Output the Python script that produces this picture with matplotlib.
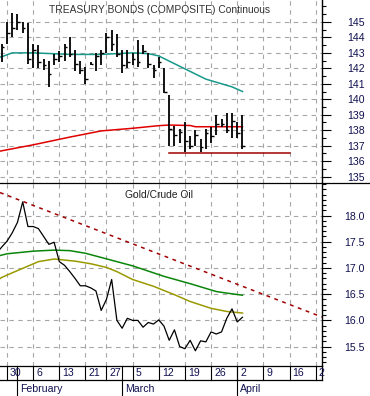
#!/usr/bin/env python3
# -*- coding: utf-8 -*-
"""
Treasury bonds vs gold/crude oil ratio, two stacked panels
"""

# %% imports
import matplotlib
matplotlib.use('Agg')
import matplotlib.pyplot as plt
from matplotlib.lines import Line2D
from matplotlib.ticker import FixedLocator, MultipleLocator
import matplotlib.transforms as mtransforms

# %% data - x is trading-day index, 0 = Jan 30 2012
bar_idx = list(range(-1, 46))
bond_high = [143.6, 145.0, 145.6, 145.5, 145.0, 144.9, 143.6, 143.5, 142.6, 142.5,
             142.9, 143.1, 143.6, 144.0, 143.2, 142.5, 142.1, 142.4, 143.0, 143.2,
             144.3, 144.5, 144.2, 143.2, 143.2, 143.0, 143.8, 143.5, 143.0, 142.2,
             142.7, 142.0, 140.3, 138.3, 138.1, 138.5, 137.6, 138.0, 137.4, 138.1,
             138.2, 139.0, 138.7, 139.1, 139.1, 138.5, 139.0]
bond_low = [142.4, 143.6, 144.0, 144.5, 144.3, 142.3, 142.0, 142.0, 141.9, 140.8,
            142.2, 142.4, 142.5, 142.7, 141.8, 141.6, 141.0, 142.2, 141.8, 142.2,
            143.0, 143.1, 142.7, 141.7, 142.0, 142.2, 142.1, 142.9, 142.0, 141.4,
            142.0, 140.4, 137.0, 137.0, 137.2, 136.6, 136.8, 137.0, 136.6, 136.8,
            137.2, 137.7, 138.2, 137.8, 137.5, 137.5, 136.8]
bond_close = [143.4, 144.3, 144.6, 145.0, 144.6, 142.6, 143.2, 142.4, 142.2, 141.6,
              142.6, 142.8, 143.4, 142.9, 142.3, 141.9, 141.3, 142.3, 142.8, 143.0,
              144.0, 143.6, 142.9, 142.2, 142.4, 142.6, 142.4, 143.1, 142.3, 141.9,
              142.4, 140.5, 138.1, 137.7, 137.9, 137.3, 137.0, 137.7, 136.9, 137.8,
              137.6, 138.4, 138.4, 138.0, 138.6, 137.8, 137.0]

ma50_x = [-2, -1, 1, 5, 12, 18, 24, 27, 29, 32, 35, 38, 41, 43, 45]
ma50_y = [142.7, 142.75, 143.0, 143.0, 142.9, 142.9, 143.0, 142.95, 142.8,
          142.3, 141.8, 141.3, 141.0, 140.8, 140.5]
ma200_x = [-2, 5, 12, 18, 24, 29, 31, 35, 36, 45]
ma200_y = [136.6, 137.05, 137.55, 137.95, 138.12, 138.29, 138.33, 138.3, 138.22, 138.22]
support_x = [31, 54]
support_y = [136.55, 136.55]

ratio_idx = list(range(-2, 46))
ratio = [17.28, 17.40, 17.51, 17.67, 17.87, 18.26, 17.79, 17.79, 17.75, 17.60,
         17.45, 17.49, 17.12, 17.05, 16.93, 16.80, 16.66, 16.66, 16.62, 16.56,
         16.19, 16.40, 16.78, 16.00, 15.85, 16.04, 16.00, 16.00, 15.87, 15.96,
         15.93, 16.01, 15.89, 15.62, 15.82, 15.50, 15.46, 15.62, 15.42, 15.61,
         15.59, 15.78, 15.74, 15.78, 16.04, 16.22, 15.97, 16.06]
green_x = [-2, 0, 5, 9, 12, 15, 21, 24, 30, 35, 40, 42, 45]
green_y = [17.22, 17.27, 17.32, 17.34, 17.33, 17.28, 17.12, 17.04, 16.84, 16.70,
           16.55, 16.52, 16.48]
olive_x = [-2, -1, 2, 6, 9, 13, 16, 19, 21, 24, 28, 32, 35, 39, 42, 45]
olive_y = [16.75, 16.82, 16.95, 17.12, 17.17, 17.13, 17.08, 17.01, 16.93, 16.78,
           16.65, 16.49, 16.36, 16.23, 16.17, 16.14]
trend_x = [3, 59]
trend_y = [18.27, 16.11]

top_ticks = [135, 136, 137, 138, 139, 140, 141, 142, 143, 144, 145]
bot_ticks = [15.5, 16.0, 16.5, 17.0, 17.5, 18.0]
week_idx = [0, 5, 10, 15, 19, 24, 29, 34, 39, 44, 49, 54, 59]
week_lbl = ['30', '6', '13', '21', '27', '5', '12', '19', '26', '2', '9', '16', '2']
month_idx = [2, 22, 44]
month_lbl = ['February', 'March', 'April']

# %% style
plt.rcParams['font.family'] = ['Liberation Sans', 'DejaVu Sans']
W, H = 370, 396
xlo, xhi = -1.34, 60.2
lblc = '#101050'
gridkw = dict(color='#a6a6a6', linestyle=(0, (4, 4)), linewidth=0.8)

fig = plt.figure(figsize=(W / 100, H / 100), dpi=100)
ax1 = fig.add_axes([0, 213 / H, 322 / W, 183 / H])
ax2 = fig.add_axes([0, 30 / H, 322 / W, 183 / H])


def style_axis(ax, ticks, labels, ylim, minor):
    ax.set_xlim(xlo, xhi)
    ax.set_ylim(*ylim)
    for s in ['top', 'left', 'bottom']:
        ax.spines[s].set_visible(False)
    ax.spines['right'].set_linewidth(1.0)
    ax.set_xticks(week_idx)
    ax.tick_params(axis='x', length=0, labelbottom=False)
    ax.yaxis.set_major_locator(FixedLocator(ticks))
    ax.yaxis.set_minor_locator(MultipleLocator(minor))
    ax.set_yticklabels(labels)
    ax.yaxis.tick_right()
    ax.tick_params(axis='y', which='major', direction='out', length=6.5, width=0.8,
                   pad=24.5, labelsize=7.6, labelcolor=lblc)
    ax.tick_params(axis='y', which='minor', direction='out', length=2.9, width=0.8)
    for t in ax.get_yticklabels():
        t.set_horizontalalignment('right')
    ax.grid(True, which='major', **gridkw)
    ax.set_axisbelow(True)


# %% top panel - treasury bonds
style_axis(ax1, top_ticks, [str(t) for t in top_ticks], (134.58, 146.42), 0.5)
ax1.plot(ma200_x, ma200_y, color='#e00000', lw=1.1)
ax1.plot(ma50_x, ma50_y, color='#17998a', lw=1.1)
ax1.plot(support_x, support_y, color='#a00000', lw=1.1)
ax1.vlines(bar_idx, bond_low, bond_high, color='black', lw=1.3)
ax1.hlines(bond_close, bar_idx, [i + 0.5 for i in bar_idx], color='black', lw=1.0)
ax1.text(0.495, 0.945, 'TREASURY BONDS (COMPOSITE) Continuous', transform=ax1.transAxes,
         ha='center', va='center', fontsize=7.4, color='#333333')

# %% bottom panel - gold/crude ratio
style_axis(ax2, bot_ticks, ['%.1f' % t for t in bot_ticks], (15.13, 18.62), 0.1)
ax2.axline((trend_x[0], trend_y[0]), (trend_x[1], trend_y[1]), color='#a00000',
           lw=1.1, linestyle=(0, (2.5, 3)))
ax2.plot(green_x, green_y, color='#0a860a', lw=1.1)
ax2.plot(olive_x, olive_y, color='#9a9a00', lw=1.1)
ax2.plot(ratio_idx, ratio, color='black', lw=0.9)
ax2.text(0.495, 0.935, 'Gold/Crude Oil', transform=ax2.transAxes,
         ha='center', va='center', fontsize=7.4, color='#222222')

# %% date axis rows drawn under the bottom panel
fy = lambda px: (H - px) / H
bt = mtransforms.blended_transform_factory(ax2.transData, fig.transFigure)
bt_lbl = mtransforms.offset_copy(bt, fig=fig, x=3, y=0, units='dots')
for i, l in zip(week_idx, week_lbl):
    fig.add_artist(Line2D([i, i], [fy(366), fy(380)], transform=bt, color='black', lw=0.8))
    fig.text(i, fy(373.5), l, transform=bt_lbl, ha='left', va='center',
             fontsize=7.6, color=lblc)
for i, l in zip(month_idx, month_lbl):
    fig.add_artist(Line2D([i, i], [fy(366), fy(396)], transform=bt, color='black', lw=0.8))
    fig.text(i, fy(388.5), l, transform=bt_lbl, ha='left', va='center',
             fontsize=7.6, color=lblc)

# frame lines of the chart window
fig.add_artist(Line2D([0, 1], [fy(183), fy(183)], transform=fig.transFigure, color='black', lw=0.9))
fig.add_artist(Line2D([0, 322 / W], [fy(366), fy(366)], transform=fig.transFigure, color='black', lw=0.9))
fig.add_artist(Line2D([0, 322 / W], [fy(380), fy(380)], transform=fig.transFigure, color='black', lw=0.9))
fig.add_artist(Line2D([322 / W, 322 / W], [fy(366), fy(380)], transform=fig.transFigure, color='black', lw=0.9))

fig.savefig('out.png', dpi=100)
